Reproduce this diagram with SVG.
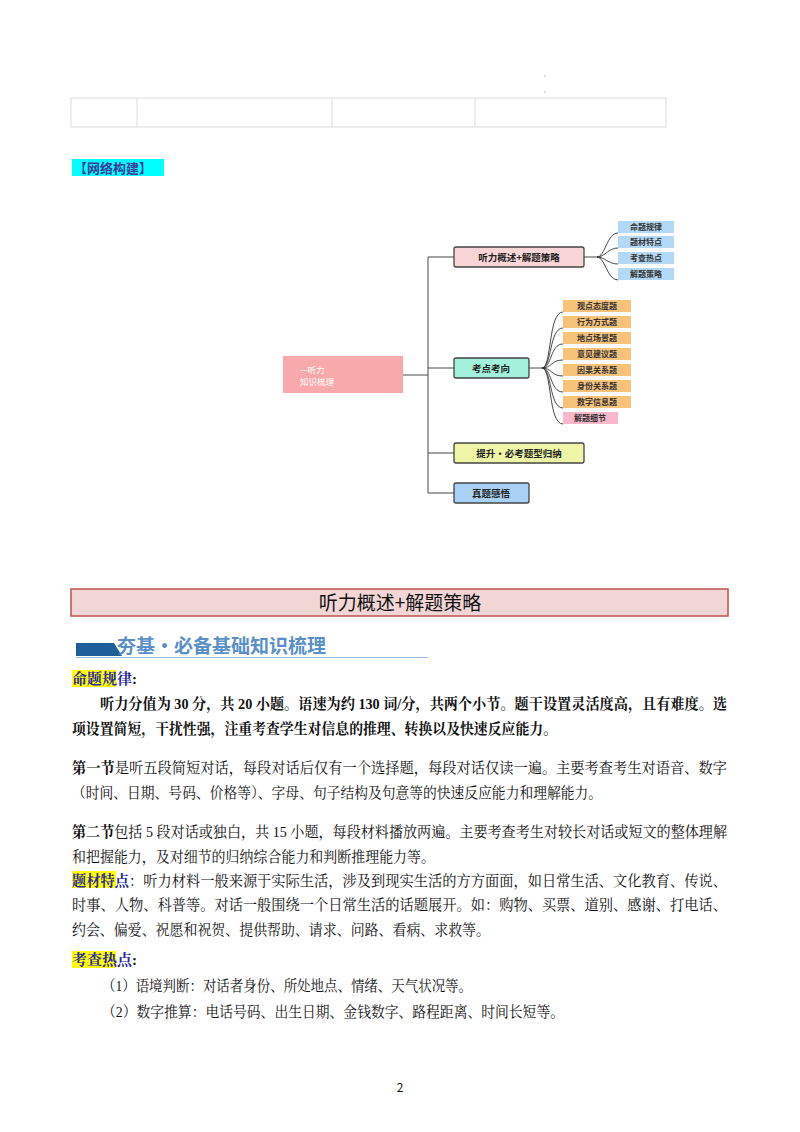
<svg xmlns="http://www.w3.org/2000/svg" width="800" height="1132" viewBox="0 0 800 1132">
<style>
text{font-family:"Noto Sans CJK SC","Noto Sans",sans-serif}
.s{font-family:"Liberation Serif","Noto Serif CJK SC","Noto Sans CJK SC",serif;font-size:15px;fill:#111}
.b{font-weight:bold}
.n{font-size:9.5px;font-weight:bold;fill:#222;text-anchor:middle}
.l{font-size:8px;font-weight:bold;fill:#333;text-anchor:middle}
.br{stroke:#444;stroke-width:1.5}
.c{fill:none;stroke:#333;stroke-width:0.9}
.line{stroke:#ddd;stroke-width:1;fill:none}
.hl{fill:#ffff00}
.kw{fill:#2a2aa0;font-weight:bold}
</style>
<rect width="800" height="1132" fill="#fff"/>
<g id="table">
<rect class="line" x="71" y="98" width="595" height="29"/>
<line class="line" x1="137" y1="98" x2="137" y2="127"/>
<line class="line" x1="332" y1="98" x2="332" y2="127"/>
<line class="line" x1="475" y1="98" x2="475" y2="127"/>
<circle cx="545" cy="76" r="0.8" fill="#aa9"/><circle cx="545" cy="92" r="0.8" fill="#aa9"/>
</g>
<g id="netTitle"><rect x="72" y="159" width="92" height="17" fill="#00ffff"/><text x="74" y="173" font-size="13" font-weight="bold" fill="#3b3b9a">【网络构建】</text></g>
<g id="connectors">
<path class="c br" d="M403 375H428M428 257V493M428 257H454M428 368H454M428 453H454M428 493H454"/>
<path class="c br" d="M584 257H597M529 368H542"/>
<path class="c" d="M597 257C605 257 607 233 618 233M597 257C605 257 608 248 618 248M597 257C605 257 608 264 618 264M597 257C605 257 607 280 618 280"/>
<path class="c" d="M542 368C552 368 548 312 563 312M542 368C552 368 549 328 563 328M542 368C552 368 550 344 563 344M542 368C552 368 551 360 563 360M542 368C552 368 551 376 563 376M542 368C552 368 550 392 563 392M542 368C552 368 549 408 563 408M542 368C552 368 548 424 563 424"/>
</g>
<g id="root"><rect x="283" y="356" width="120" height="37" fill="#f8a9ab"/><text x="300" y="373" font-size="8.5" fill="#fff">—听力</text><text x="300" y="385" font-size="8.5" fill="#fff">知识梳理</text></g>
<g id="b1"><rect x="454" y="247" width="130" height="20" rx="2" fill="#f9d5d8" stroke="#444" stroke-width="1.3"/><text class="n" x="519" y="261">听力概述+解题策略</text></g>
<g id="b2"><rect x="454" y="358" width="75" height="20" rx="2" fill="#a3f0dc" stroke="#444" stroke-width="1.3"/><text class="n" x="491" y="372">考点考向</text></g>
<g id="b3"><rect x="454" y="443" width="130" height="20" rx="2" fill="#eef5a6" stroke="#444" stroke-width="1.3"/><text class="n" x="519" y="457">提升·必考题型归纳</text></g>
<g id="b4"><rect x="454" y="483" width="75" height="20" rx="2" fill="#a9d1f5" stroke="#444" stroke-width="1.3"/><text class="n" x="491" y="497">真题感悟</text></g>
<g id="leaves1" fill="#b3d9f7">
<rect x="618" y="221" width="56" height="12"/><rect x="618" y="236" width="56" height="12"/><rect x="618" y="252" width="56" height="12"/><rect x="618" y="268" width="56" height="12"/>
<text class="l" x="646" y="230">命题规律</text><text class="l" x="646" y="245">题材特点</text><text class="l" x="646" y="261">考查热点</text><text class="l" x="646" y="277">解题策略</text>
</g>
<g id="leaves2" fill="#f7c27a">
<rect x="563" y="300" width="68" height="12"/><rect x="563" y="316" width="68" height="12"/><rect x="563" y="332" width="68" height="12"/><rect x="563" y="348" width="68" height="12"/><rect x="563" y="364" width="68" height="12"/><rect x="563" y="380" width="68" height="12"/><rect x="563" y="396" width="68" height="12"/><rect x="563" y="412" width="55" height="12" fill="#f9b7cb"/>
<text class="l" x="597" y="309">观点态度题</text><text class="l" x="597" y="325">行为方式题</text><text class="l" x="597" y="341">地点场景题</text><text class="l" x="597" y="357">意见建议题</text><text class="l" x="597" y="373">因果关系题</text><text class="l" x="597" y="389">身份关系题</text><text class="l" x="597" y="405">数字信息题</text><text class="l" x="590" y="421">解题细节</text>
</g>
<g id="header"><rect x="71" y="589" width="657" height="27" fill="#f2d6d6" stroke="#c0504d" stroke-width="1.5"/><text x="400" y="610" font-size="19" text-anchor="middle" fill="#111">听力概述+解题策略</text></g>
<g id="sec"><polygon points="76,643 114,643 122,656 76,656" fill="#1f5f99"/><text x="117" y="653" font-size="19" font-weight="bold" fill="#5a8fc8" font-family="Liberation Serif,Noto Serif CJK SC,Noto Sans CJK SC,serif">夯基·必备基础知识梳理</text><line x1="76" y1="657.5" x2="428" y2="657.5" stroke="#9cc0e0" stroke-width="1"/></g>
<g id="body">
<rect class="hl" x="72" y="670" width="44" height="17"/><text class="s kw" x="72" y="684">命题规律<tspan fill="#111">:</tspan></text>
<text class="s b" x="100" y="709" textLength="627" lengthAdjust="spacingAndGlyphs">听力分值为 30 分，共 20 小题。语速为约 130 词/分，共两个小节。题干设置灵活度高，且有难度。选</text>
<text class="s b" x="72" y="734" textLength="485" lengthAdjust="spacingAndGlyphs">项设置简短，干扰性强，注重考查学生对信息的推理、转换以及快速反应能力。</text>
<text class="s" x="72" y="773" textLength="655" lengthAdjust="spacingAndGlyphs"><tspan font-weight="bold">第一节</tspan>是听五段简短对话，每段对话后仅有一个选择题，每段对话仅读一遍。主要考查考生对语音、数字</text>
<text class="s" x="72" y="798" textLength="530" lengthAdjust="spacingAndGlyphs">（时间、日期、号码、价格等）、字母、句子结构及句意等的快速反应能力和理解能力。</text>
<text class="s" x="72" y="837" textLength="655" lengthAdjust="spacingAndGlyphs"><tspan font-weight="bold">第二节</tspan>包括 5 段对话或独白，共 15 小题，每段材料播放两遍。主要考查考生对较长对话或短文的整体理解</text>
<text class="s" x="72" y="862" textLength="363" lengthAdjust="spacingAndGlyphs">和把握能力，及对细节的归纳综合能力和判断推理能力等。</text>
<rect class="hl" x="72" y="871" width="44" height="17"/>
<text class="s" x="72" y="886" textLength="655" lengthAdjust="spacingAndGlyphs"><tspan class="kw">题材特点</tspan>：听力材料一般来源于实际生活，涉及到现实生活的方方面面，如日常生活、文化教育、传说、</text>
<text class="s" x="72" y="910" textLength="655" lengthAdjust="spacingAndGlyphs">时事、人物、科普等。对话一般围绕一个日常生活的话题展开。如：购物、买票、道别、感谢、打电话、</text>
<text class="s" x="72" y="935" textLength="418" lengthAdjust="spacingAndGlyphs">约会、偏爱、祝愿和祝贺、提供帮助、请求、问路、看病、求救等。</text>
<rect class="hl" x="72" y="951" width="44" height="17"/><text class="s kw" x="72" y="965">考查热点<tspan fill="#111">:</tspan></text>
<text class="s" x="102" y="991" textLength="370" lengthAdjust="spacingAndGlyphs">（1）语境判断：对话者身份、所处地点、情绪、天气状况等。</text>
<text class="s" x="102" y="1017" textLength="462" lengthAdjust="spacingAndGlyphs">（2）数字推算：电话号码、出生日期、金钱数字、路程距离、时间长短等。</text>
<text x="400" y="1092" font-size="12" text-anchor="middle" fill="#111" font-family="Liberation Serif,serif">2</text>
</g>
</svg>
